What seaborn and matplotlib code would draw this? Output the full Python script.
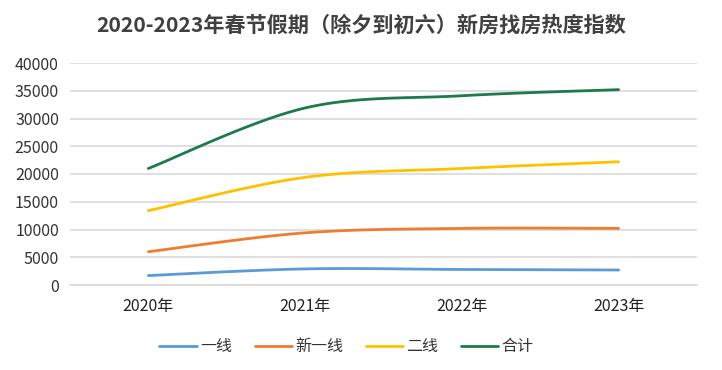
import numpy as np
import pandas as pd
import matplotlib
matplotlib.use("Agg")
import matplotlib.pyplot as plt
import seaborn as sns

years = ["2020年", "2021年", "2022年", "2023年"]
tier1 = [1700, 2900, 2800, 2700]
new_tier1 = [6000, 9400, 10200, 10200]
tier2 = [13400, 19400, 21000, 22200]
total = [21000, 31900, 34100, 35200]
series_names = ["一线", "新一线", "二线", "合计"]
colors = ["#5B9BD5", "#ED7D31", "#FFC000", "#1E7A4B"]
yticks = [0, 5000, 10000, 15000, 20000, 25000, 30000, 35000, 40000]


def smooth(xs, ys, n=40):
    # Excel-style smoothed line (Bezier through data points)
    xs = np.asarray(xs, float); ys = np.asarray(ys, float)
    P = np.column_stack([xs, ys])
    out = []
    for i in range(len(P) - 1):
        p0 = P[i - 1] if i > 0 else P[i]
        p1 = P[i]; p2 = P[i + 1]
        p3 = P[i + 2] if i + 2 < len(P) else P[i + 1]
        c1 = p1 + (p2 - p0) / 6.0
        c2 = p2 - (p3 - p1) / 6.0
        t = np.linspace(0, 1, n, endpoint=(i == len(P) - 2))[:, None]
        seg = ((1 - t) ** 3) * p1 + 3 * ((1 - t) ** 2) * t * c1 + 3 * (1 - t) * t ** 2 * c2 + t ** 3 * p2
        out.append(seg)
    out = np.vstack(out)
    return out[:, 0], out[:, 1]


sns.set_theme(style="white")
plt.rcParams['font.family'] = ['Noto Sans CJK SC', 'DejaVu Sans']

fig = plt.figure(figsize=(7.22, 3.70), dpi=100)
ax = fig.add_axes([70 / 722, 1 - 285 / 370, 627 / 722, (285 - 63) / 370])

frames = []
for name, vals in zip(series_names, [tier1, new_tier1, tier2, total]):
    sx, sy = smooth(range(len(years)), vals)
    frames.append(pd.DataFrame({"x": sx, "y": sy, "series": name}))
df = pd.concat(frames, ignore_index=True)

sns.lineplot(data=df, x="x", y="y", hue="series", hue_order=series_names,
             palette=colors, sort=False, estimator=None, units="series",
             linewidth=2.0, ax=ax, legend=True)

ax.set_xlim(-0.5, len(years) - 0.5)
ax.set_ylim(0, 40000)
ax.set_yticks(yticks)
ax.set_yticklabels([str(v) for v in yticks], fontsize=11.5, color="#333333")
ax.set_xticks(range(len(years)))
ax.set_xticklabels(years, fontsize=11.5, color="#222222")
ax.set_xticks(np.arange(-0.5, len(years), 1.0), minor=True)
ax.tick_params(axis="x", which="major", length=0, pad=9)
ax.tick_params(axis="x", which="minor", length=5, color="#D9D9D9", width=1, direction="out")
ax.tick_params(axis="y", length=0, pad=8)
ax.grid(axis="y", color="#D9D9D9", linewidth=1.2)
ax.set_axisbelow(True)
for s in ["left", "right", "top"]:
    ax.spines[s].set_visible(False)
ax.spines["bottom"].set_color("#D9D9D9")
ax.spines["bottom"].set_linewidth(1.2)
ax.set_xlabel("")
ax.set_ylabel("")

handles, labels = ax.get_legend_handles_labels()
ax.legend(handles, labels, loc="center", bbox_to_anchor=((346.5 - 70) / 627, (285 - 347) / 222),
          ncol=4, frameon=False, fontsize=11.5, handlelength=2.35, columnspacing=1.4,
          handletextpad=0.2, labelcolor="#333333")

fig.text(0.5, 1 - 25 / 370, "2020-2023年春节假期（除夕到初六）新房找房热度指数",
         ha="center", va="center", fontsize=15.2, fontweight="bold", color="#404040")

fig.savefig("out.png", dpi=100)
